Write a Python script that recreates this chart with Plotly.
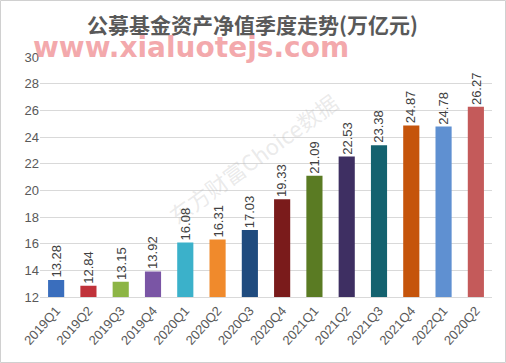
import plotly.graph_objects as go

categories = ["2019Q1", "2019Q2", "2019Q3", "2019Q4", "2020Q1", "2020Q2", "2020Q3",
              "2020Q4", "2021Q1", "2021Q2", "2021Q3", "2021Q4", "2022Q1", "2020Q2"]
values = [13.28, 12.84, 13.15, 13.92, 16.08, 16.31, 17.03, 19.33, 21.09, 22.53, 23.38, 24.87, 24.78, 26.27]
colors = ["#3A6EBD", "#C0323A", "#8DB545", "#7A55A5", "#3BB1CA", "#F08A2C", "#1F4B7E",
          "#7A1B1B", "#5A7B23", "#3E2F62", "#14626F", "#C5540B", "#5F90D1", "#C45A5A"]

pos = list(range(len(categories)))

fig = go.Figure(go.Bar(
    x=pos, y=values,
    marker=dict(color=colors, line=dict(width=0)),
    cliponaxis=False, hoverinfo="skip",
))

W, H = 506, 363
ml, mr, mt, mb = 40, 14, 57, 66
pw, ph = W - ml - mr, H - mt - mb

annotations = [
    dict(text="东方财富Choice数据", xref="paper", yref="paper",
         x=(253 - ml) / pw, y=(H - mb - 158) / ph, xanchor="center", yanchor="middle",
         textangle=-36, showarrow=False,
         font=dict(size=22, color="rgba(185,185,185,0.30)", family="Noto Sans CJK SC")),
]
annotations += [
    dict(x=p, y=v, text=f"{v:.2f}", xref="x", yref="y", showarrow=False,
         textangle=-90, xanchor="center", yanchor="bottom", yshift=0,
         font=dict(size=13, color="#404040", family="Liberation Sans, Arial"))
    for p, v in zip(pos, values)
]
annotations += [
    dict(text="<b>公募基金资产净值季度走势(万亿元)</b>", xref="paper", yref="paper",
         x=(252 - ml) / pw, y=(H - mb - 24) / ph, xanchor="center", yanchor="middle",
         showarrow=False, font=dict(size=21, color="#595959", family="Noto Sans CJK SC")),
    dict(text="<b>www.xialuotejs.com</b>", xref="paper", yref="paper",
         x=(31 - ml) / pw, y=(H - mb - 48) / ph, xanchor="left", yanchor="middle",
         showarrow=False, font=dict(size=28, color="rgba(240,145,150,0.78)", family="DejaVu Sans")),
]

fig.update_layout(
    width=W, height=H,
    margin=dict(l=ml, r=mr, t=mt, b=mb),
    paper_bgcolor="white", plot_bgcolor="white",
    bargap=0.5, showlegend=False,
    font=dict(family="Liberation Sans, Arial", color="#595959"),
    xaxis=dict(tickmode="array", tickvals=pos, ticktext=categories, tickangle=-48,
               range=[-0.5, len(pos) - 0.5],
               tickfont=dict(size=13, color="#595959"), showgrid=False,
               showline=True, linecolor="#D9D9D9", ticks="", zeroline=False),
    yaxis=dict(range=[12, 30], dtick=2, tickfont=dict(size=13, color="#595959"),
               showgrid=True, gridcolor="#D9D9D9", gridwidth=1, zeroline=False,
               ticks="", showline=False),
    annotations=annotations,
    shapes=[dict(type="rect", xref="paper", yref="paper",
                 x0=(0.5 - ml) / pw, x1=(W - 0.5 - ml) / pw,
                 y0=-(mb - 0.5) / ph, y1=(H - 0.5 - mb) / ph,
                 line=dict(color="#D0D0D0", width=1), layer="below")],
)

fig.write_html("out.html", config={"displayModeBar": False},
               post_script="document.body.style.margin='0';document.body.style.overflow='hidden';")
